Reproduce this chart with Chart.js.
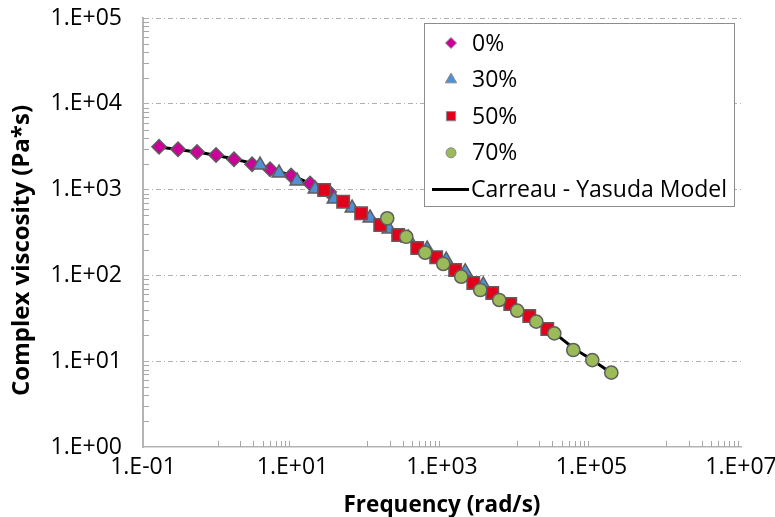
<!DOCTYPE html>
<html>
<head>
<meta charset="utf-8">
<script src="https://cdn.jsdelivr.net/npm/chart.js@4.4.1/dist/chart.umd.min.js"></script>
<style>
    html, body { margin: 0; padding: 0; background: #ffffff; }
</style>
</head>
<body>
<canvas id="mioGrafico" width="775" height="517"></canvas>
<script>
/* VISCOSITA' COMPLESSA vs FREQUENZA, scala log-log */

// Frequenze (rad/s) e viscosità (Pa*s) per ogni miscela
const freq0 = [0.164, 0.294, 0.528, 0.949, 1.65, 2.88, 5.01, 9.58, 17.2, 30.9];
const visc0 = [3160, 2950, 2740, 2530, 2255, 1970, 1725, 1460, 1180, 938];

const freq30 = [3.68, 6.62, 11.5, 20.1, 36.1, 62.8, 109, 196, 353, 634, 1140, 2045, 3560];
const visc30 = [1935, 1561, 1260, 1016, 777, 610, 467, 347, 273, 203, 151, 110, 77.3];

const freq50 = [26.5, 47.6, 82.8, 149, 259, 466, 836, 1500, 2620, 4700, 8190, 14700, 25600];
const visc50 = [989, 723, 529, 387, 296, 209, 163, 115.6, 81.5, 62.4, 46.4, 33.6, 23.7];

const freq70 = [185, 332, 596, 1040, 1810, 3250, 5830, 10150, 18240, 31770, 57060, 102500, 184100];
const visc70 = [463, 282, 184, 136, 96.6, 67.6, 51.7, 38.8, 28.9, 21.1, 13.5, 10.3, 7.35];

// Curva del modello Carreau - Yasuda
const freqModello = [0.164, 0.53, 1.65, 5.0, 17.2, 47.6, 149, 466, 1500, 4700, 14700, 31800, 57000, 102500, 184000];
const viscModello = [3140, 2740, 2270, 1760, 1180, 736, 419, 232, 122, 64, 33.6, 21.3, 14.3, 10.3, 7.3];

// Etichette degli assi
const tickX = [1e-1, 1e1, 1e3, 1e5, 1e7];
const tickY = [1e0, 1e1, 1e2, 1e3, 1e4, 1e5];
const titoloAsseY = 'Complex viscosity (Pa*s)';

const FONT = "'Open Sans', sans-serif";
const GRIGIO_ASSE = '#b4b4b4';
const BORDO_MARKER = '#5e5e5e';

const punti = (xs, ys) => xs.map((x, i) => ({ x: x, y: ys[i] }));

// 1.E+03, 1.E-01 ...
const formatta = (v) => {
    const e = Math.round(Math.log10(v));
    return '1.E' + (e < 0 ? '-' : '+') + String(Math.abs(e)).padStart(2, '0');
};

// Tacche secondarie verso l'interno, come nel foglio di calcolo
const tacche = {
    id: 'tacche',
    afterDraw(chart) {
        const { ctx, scales: { x, y }, chartArea: area } = chart;
        ctx.save();
        ctx.strokeStyle = '#a6a6a6';
        ctx.lineWidth = 1;
        ctx.beginPath();
        for (let e = 0; e < 5; e++) {
            for (let k = 2; k <= 9; k++) {
                const py = Math.round(y.getPixelForValue(k * Math.pow(10, e))) + 0.5;
                ctx.moveTo(area.left, py);
                ctx.lineTo(area.left + 6, py);
            }
        }
        [0, 2, 4, 6].forEach(e => {
            for (let k = 1; k <= 9; k++) {
                const px = Math.round(x.getPixelForValue(k * Math.pow(10, e))) + 0.5;
                ctx.moveTo(px, area.bottom);
                ctx.lineTo(px, area.bottom - 6);
            }
        });
        ctx.stroke();
        ctx.restore();
    }
};

// Titolo verticale, un po' più in basso del centro dell'asse
const titoloY = {
    id: 'titoloY',
    afterDraw(chart) {
        const ctx = chart.ctx;
        const area = chart.chartArea;
        ctx.save();
        ctx.translate(22, (area.top + area.bottom) / 2 + 18);
        ctx.rotate(-Math.PI / 2);
        ctx.font = `bold 24px ${FONT}`;
        ctx.fillStyle = '#000000';
        ctx.textAlign = 'center';
        ctx.textBaseline = 'middle';
        ctx.fillText(titoloAsseY, 0, 0);
        ctx.restore();
    }
};

// Legenda con cornice dentro l'area del grafico
const legendaInterna = {
    id: 'legendaInterna',
    afterDraw(chart) {
        const ctx = chart.ctx;
        const area = chart.chartArea;
        const x0 = area.right - 317, y0 = area.top + 5, w = 310, h = 183;
        ctx.save();
        ctx.fillStyle = '#ffffff';
        ctx.fillRect(x0, y0, w, h);
        ctx.strokeStyle = '#8c8c8c';
        ctx.lineWidth = 1;
        ctx.strokeRect(x0 + 0.5, y0 + 0.5, w, h);

        ctx.font = `23px ${FONT}`;
        ctx.textBaseline = 'middle';
        ctx.fillStyle = '#000000';
        chart.data.datasets.forEach((ds, i) => {
            const ry = y0 + 20 + i * 36.6;
            if (ds.showLine) {
                ctx.strokeStyle = ds.borderColor;
                ctx.lineWidth = 3;
                ctx.beginPath();
                ctx.moveTo(x0 + 8, ry);
                ctx.lineTo(x0 + 45, ry);
                ctx.stroke();
                ctx.fillText(ds.label, x0 + 47, ry + 1);
            } else {
                ctx.fillStyle = ds.backgroundColor;
                ctx.strokeStyle = '#8a8a8a';
                ctx.lineWidth = 1;
                Chart.helpers.drawPoint(ctx, {
                    pointStyle: ds.pointStyle,
                    radius: ds.legendRadius,
                    rotation: 0,
                    borderWidth: 1
                }, x0 + 27, ry);
                ctx.fillStyle = '#000000';
                ctx.fillText(ds.label, x0 + 48, ry + 1);
            }
        });
        ctx.restore();
    }
};

const contesto = document.getElementById('mioGrafico').getContext('2d');

new Chart(contesto, {
    type: 'scatter',
    data: {
        datasets: [
            {
                label: '0%',
                data: punti(freq0, visc0),
                pointStyle: 'rectRot',
                pointRadius: 7.2,
                legendRadius: 5.5,
                backgroundColor: '#cc0099',
                borderColor: BORDO_MARKER,
                borderWidth: 1.5,
                order: 4
            },
            {
                label: '30%',
                data: punti(freq30, visc30),
                pointStyle: 'triangle',
                pointRadius: 8,
                legendRadius: 6.5,
                backgroundColor: '#5290d6',
                borderColor: BORDO_MARKER,
                borderWidth: 1.5,
                order: 3
            },
            {
                label: '50%',
                data: punti(freq50, visc50),
                pointStyle: 'rect',
                pointRadius: 8.8,
                legendRadius: 6.5,
                backgroundColor: '#e3001b',
                borderColor: BORDO_MARKER,
                borderWidth: 1.5,
                order: 2
            },
            {
                label: '70%',
                data: punti(freq70, visc70),
                pointStyle: 'circle',
                pointRadius: 6.6,
                legendRadius: 5,
                backgroundColor: '#9bbb59',
                borderColor: BORDO_MARKER,
                borderWidth: 1.5,
                order: 1
            },
            {
                label: 'Carreau - Yasuda Model',
                data: punti(freqModello, viscModello),
                showLine: true,
                borderColor: '#000000',
                borderWidth: 3,
                pointRadius: 0,
                tension: 0.2,
                order: 5
            }
        ]
    },
    options: {
        responsive: false,
        animation: false,
        devicePixelRatio: 1,
        layout: { padding: { top: 18, right: 34, bottom: 0, left: 0 } },
        plugins: {
            legend: { display: false },
            tooltip: { enabled: false }
        },
        scales: {
            x: {
                type: 'logarithmic',
                min: 1e-1,
                max: 1e7,
                afterBuildTicks: (scala) => { scala.ticks = tickX.map(v => ({ value: v })); },
                afterFit: (scala) => {
                    scala.height = 70;
                    scala.paddingLeft = 0;
                    scala.paddingRight = 0;
                },
                ticks: {
                    callback: (v) => formatta(v),
                    font: { family: FONT, size: 23 },
                    color: '#000000',
                    padding: 7,
                    maxRotation: 0,
                    autoSkip: false
                },
                grid: { display: false, drawTicks: false },
                border: { display: true, color: GRIGIO_ASSE, width: 1.5 },
                title: {
                    display: true,
                    text: 'Frequency (rad/s)',
                    font: { family: FONT, size: 22.5, weight: 'bold' },
                    color: '#000000',
                    padding: { top: 0, bottom: -2 }
                }
            },
            y: {
                type: 'logarithmic',
                min: 1,
                max: 1e5,
                afterBuildTicks: (scala) => { scala.ticks = tickY.map(v => ({ value: v })); },
                afterFit: (scala) => {
                    scala.width = 143;
                    scala.paddingTop = 0;
                    scala.paddingBottom = 0;
                },
                ticks: {
                    callback: (v) => formatta(v),
                    font: { family: FONT, size: 23 },
                    color: '#000000',
                    padding: 21,
                    autoSkip: false
                },
                grid: {
                    drawTicks: false,
                    lineWidth: 1,
                    color: (c) => (c.tick && c.tick.value === 1) ? 'rgba(0,0,0,0)' : '#b0b0b0'
                },
                border: { display: true, color: GRIGIO_ASSE, width: 2, dash: [5, 3, 1, 3] },
                title: { display: false }
            }
        }
    },
    plugins: [tacche, titoloY, legendaInterna]
});
</script>
</body>
</html>
